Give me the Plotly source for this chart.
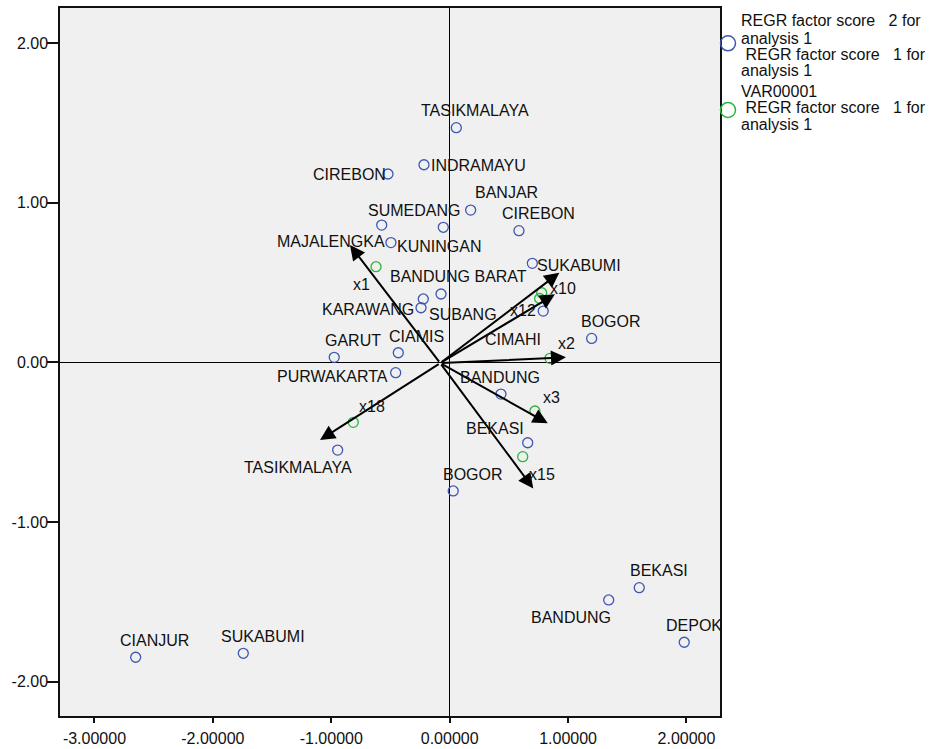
import plotly.graph_objects as go

# ---- data ----
score_x = [0.056, -0.217, -0.521, -0.574, -0.054, 0.177, -0.496, 0.585, 0.698, -0.073,
           -0.223, -0.242, 0.790, 1.199, -0.434, -0.975, -0.456, 0.433, 0.659, 0.030,
           -0.946, -2.652, -1.743, 1.601, 1.343, 1.981]
score_y = [1.470, 1.238, 1.180, 0.860, 0.846, 0.954, 0.750, 0.825, 0.620, 0.428,
           0.397, 0.342, 0.321, 0.150, 0.060, 0.031, -0.065, -0.199, -0.504, -0.806,
           -0.550, -1.848, -1.823, -1.412, -1.489, -1.754]

loading_x = [-0.622, 0.777, 0.760, 0.847, 0.720, 0.617, -0.814]
loading_y = [0.599, 0.436, 0.400, 0.025, -0.305, -0.591, -0.376]

vector_names = ["x1", "x10", "x12", "x2", "x3", "x15", "x18"]
vector_x = [-0.842, 0.926, 0.889, 0.982, 0.828, 0.706, -1.095]
vector_y = [0.735, 0.561, 0.426, 0.031, -0.382, -0.790, -0.487]
vector_label_x = [-0.747, 0.960, 0.615, 0.986, 0.861, 0.781, -0.656]
vector_label_y = [0.495, 0.470, 0.328, 0.125, -0.216, -0.696, -0.268]
origin_x, origin_y = -0.08, -0.005

city_names = ["TASIKMALAYA", "INDRAMAYU", "CIREBON", "BANJAR", "SUMEDANG", "CIREBON",
              "KUNINGAN", "MAJALENGKA", "BANDUNG BARAT", "SUKABUMI", "KARAWANG", "SUBANG",
              "BOGOR", "CIMAHI", "GARUT", "CIAMIS", "PURWAKARTA", "BANDUNG", "BEKASI",
              "BOGOR", "TASIKMALAYA", "CIANJUR", "SUKABUMI", "BEKASI", "BANDUNG", "DEPOK"]
city_label_x = [0.211, 0.246, -0.846, 0.477, -0.304, 0.748, -0.092, -1.004, 0.076, 1.093,
                -0.694, 0.115, 1.364, 0.535, -0.814, -0.278, -0.987, 0.429, 0.380, 0.195,
                -1.279, -2.489, -1.578, 1.765, 1.023, 2.063]
city_label_y = [1.581, 1.238, 1.186, 1.069, 0.959, 0.940, 0.735, 0.762, 0.541, 0.616,
                0.338, 0.307, 0.265, 0.150, 0.140, 0.171, -0.080, -0.086, -0.410, -0.696,
                -0.654, -1.736, -1.709, -1.297, -1.590, -1.642]

x_tickvals = [-3, -2, -1, 0, 1, 2]
x_ticktext = ["-3.00000", "-2.00000", "-1.00000", "0.00000", "1.00000", "2.00000"]
y_tickvals = [-2, -1, 0, 1, 2]
y_ticktext = ["-2.00", "-1.00", "0.00", "1.00", "2.00"]

legend_lines = ["REGR factor score\u00a0\u00a0\u00a02 for", "analysis 1",
                "\u00a0REGR factor score\u00a0\u00a0\u00a01 for", "analysis 1",
                "VAR00001",
                "\u00a0REGR factor score\u00a0\u00a0\u00a01 for", "analysis 1"]

# ---- style ----
BLUE = "#3f57b0"
GREEN = "#2bb53c"
FONT = "Liberation Sans, Arial, sans-serif"
W, H = 940, 749
ML, MR, MT, MB = 60, 220, 8, 33
PW, PH = W - ML - MR, H - MT - MB


def px_to_paper(xp, yp):
    return (xp - ML) / PW, (H - MB - yp) / PH


fig = go.Figure()
fig.add_trace(go.Scatter(x=score_x, y=score_y, mode="markers", showlegend=False,
                         name="REGR factor score 2 for analysis 1",
                         marker=dict(symbol="circle-open", size=10, color=BLUE,
                                     line=dict(width=1.3, color=BLUE))))
fig.add_trace(go.Scatter(x=loading_x, y=loading_y, mode="markers", showlegend=False,
                         name="VAR00001",
                         marker=dict(symbol="circle-open", size=10, color=GREEN,
                                     line=dict(width=1.3, color=GREEN))))

annotations = []
for vx, vy in zip(vector_x, vector_y):
    annotations.append(dict(x=vx, y=vy, ax=origin_x, ay=origin_y, xref="x", yref="y",
                            axref="x", ayref="y", showarrow=True, arrowhead=2,
                            arrowsize=1.5, arrowwidth=2, arrowcolor="black", text="",
                            standoff=0))
for name, lx, ly in zip(vector_names, vector_label_x, vector_label_y):
    annotations.append(dict(x=lx, y=ly, xref="x", yref="y", text=name, showarrow=False,
                            xanchor="center", yanchor="middle", yshift=-1,
                            font=dict(family=FONT, size=16, color="#111")))
for name, lx, ly in zip(city_names, city_label_x, city_label_y):
    annotations.append(dict(x=lx, y=ly, xref="x", yref="y", text=name, showarrow=False,
                            xanchor="center", yanchor="middle", yshift=-1,
                            font=dict(family=FONT, size=16, color="#111")))

legend_y_px = [20, 37.3, 53.3, 69.3, 91, 106.7, 123.3]
for line, yp in zip(legend_lines, legend_y_px):
    px_, py_ = px_to_paper(739, yp)
    annotations.append(dict(x=px_, y=py_, xref="paper", yref="paper", text=line,
                            showarrow=False, xanchor="left", yanchor="middle", yshift=-1,
                            font=dict(family=FONT, size=16, color="#111")))

shapes = []
for color, yp in [(BLUE, 43.3), (GREEN, 110)]:
    cx, cy = px_to_paper(728, yp)
    shapes.append(dict(type="circle", xref="paper", yref="paper", xsizemode="pixel",
                       ysizemode="pixel", xanchor=cx, yanchor=cy, x0=-7.5, x1=7.5,
                       y0=-7.5, y1=7.5, line=dict(color=color, width=1.5)))

fig.update_layout(
    width=W, height=H,
    margin=dict(l=ML, r=MR, t=MT, b=MB, autoexpand=False),
    paper_bgcolor="white", plot_bgcolor="#f0f0f0",
    showlegend=False,
    annotations=annotations, shapes=shapes,
    font=dict(family=FONT, size=16, color="#111"),
)
fig.update_xaxes(range=[-3.291, 2.283], tickvals=x_tickvals, ticktext=x_ticktext,
                 showgrid=False, zeroline=True, zerolinecolor="black", zerolinewidth=1,
                 showline=True, mirror=True, linecolor="#111", linewidth=1.5,
                 ticks="outside", ticklen=5, tickwidth=1.5, tickcolor="#111",
                 ticklabelstandoff=2, automargin=False,
                 tickfont=dict(family=FONT, size=16, color="#111"))
fig.update_yaxes(range=[-2.216, 2.220], tickvals=y_tickvals, ticktext=y_ticktext,
                 showgrid=False, zeroline=True, zerolinecolor="black", zerolinewidth=1,
                 showline=True, mirror=True, linecolor="#111", linewidth=1.5,
                 ticks="outside", ticklen=11, tickwidth=1.5, tickcolor="#111",
                 ticklabelstandoff=-4, automargin=False,
                 tickfont=dict(family=FONT, size=16, color="#111"))

fig.write_html("out.html", config={"displayModeBar": False},
               post_script="document.body.style.margin='0';")
